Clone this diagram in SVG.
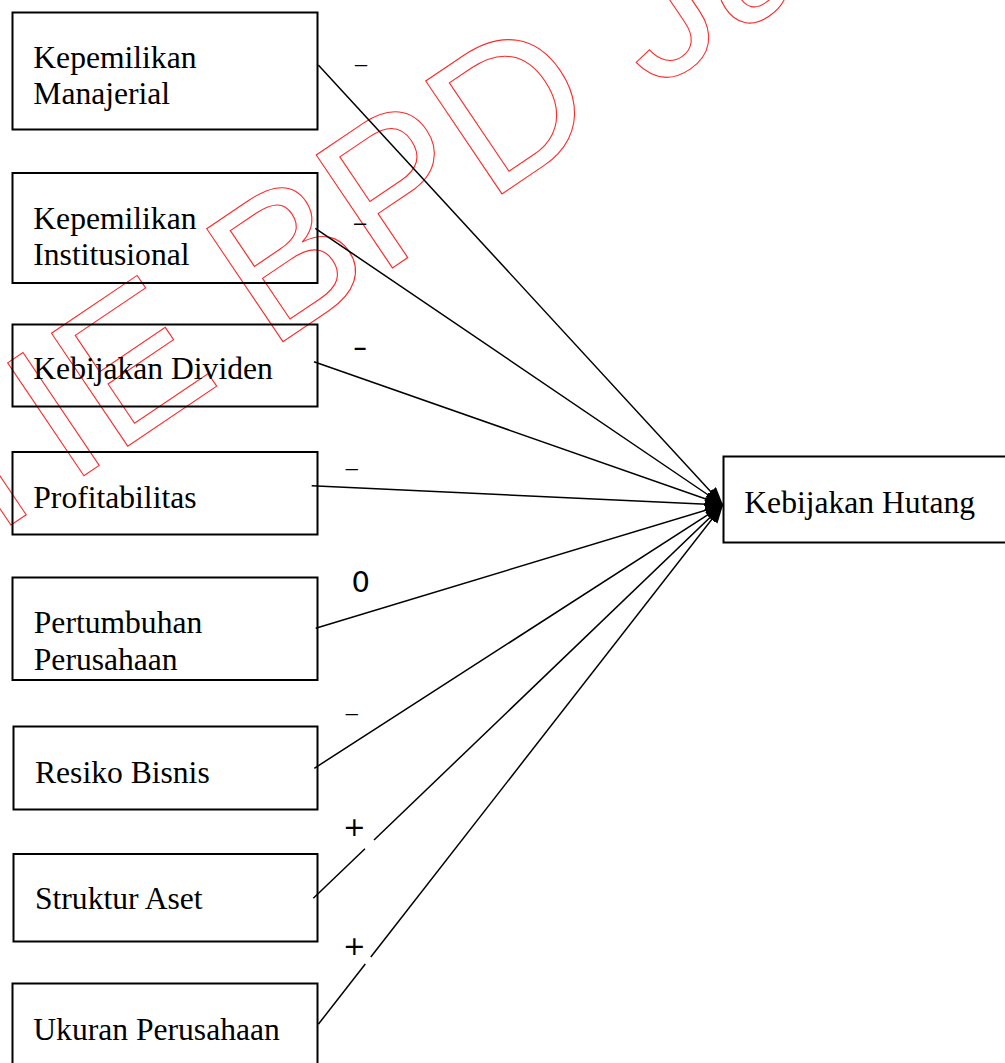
<svg xmlns="http://www.w3.org/2000/svg" width="1005" height="1063" viewBox="0 0 1005 1063">
<style>
.box{fill:none;stroke:#000;stroke-width:2}
.lbl{font-family:"Liberation Serif","Times New Roman",serif;font-size:31.6px;fill:#000}
.con{stroke:#000;stroke-width:1.5;fill:none}
.thin{font-family:"Liberation Serif","Times New Roman",serif;font-size:24px;fill:#000}
.sign{font-family:"DejaVu Sans",sans-serif;fill:#000}
.wm{font-family:"Liberation Sans",Arial,sans-serif;font-size:198px;fill:none;stroke:#ff2a2a;stroke-width:1.1}
</style>
<defs>
<marker id="arr" markerUnits="userSpaceOnUse" markerWidth="20" markerHeight="16" refX="18" refY="7" orient="auto">
<path d="M0,0 L18,7 L0,14 z" fill="#000"/>
</marker>
</defs>
<rect width="1005" height="1063" fill="#fff"/>
<g id="watermark">
<text class="wm" x="-141" y="627.6" transform="rotate(-34 -141 627.6)">STIE BPD Jateng</text>
</g>
<g id="node-manajerial">
<rect class="box" x="12.5" y="12.5" width="305" height="117"/>
<text class="lbl" x="33.3" y="68.3">Kepemilikan</text>
<text class="lbl" x="33.3" y="104.3">Manajerial</text>
</g>
<g id="node-institusional">
<rect class="box" x="12.5" y="173" width="305" height="110"/>
<text class="lbl" x="33.3" y="229.3">Kepemilikan</text>
<text class="lbl" x="33.3" y="265">Institusional</text>
</g>
<g id="node-dividen">
<rect class="box" x="12.5" y="324.5" width="305" height="82"/>
<text class="lbl" x="33.3" y="379.3">Kebijakan Dividen</text>
</g>
<g id="node-profitabilitas">
<rect class="box" x="12.5" y="452" width="305" height="82.5"/>
<text class="lbl" x="33.3" y="508.3">Profitabilitas</text>
</g>
<g id="node-pertumbuhan">
<rect class="box" x="12.5" y="577.5" width="305" height="102.5"/>
<text class="lbl" x="33.8" y="632.7">Pertumbuhan</text>
<text class="lbl" x="33.8" y="670">Perusahaan</text>
</g>
<g id="node-resiko">
<rect class="box" x="13.5" y="726.5" width="304" height="83"/>
<text class="lbl" x="35" y="782.7">Resiko Bisnis</text>
</g>
<g id="node-struktur">
<rect class="box" x="13.5" y="854" width="304" height="87.5"/>
<text class="lbl" x="35" y="909.3">Struktur Aset</text>
</g>
<g id="node-ukuran">
<rect class="box" x="12.5" y="983.5" width="305" height="100"/>
<text class="lbl" x="33.3" y="1040">Ukuran Perusahaan</text>
</g>
<g id="node-hutang">
<rect class="box" x="723.5" y="456.5" width="300" height="86"/>
<text class="lbl" x="744.3" y="512.7">Kebijakan Hutang</text>
</g>
<g id="connectors">
<line class="con" x1="318.3" y1="65" x2="723" y2="505" marker-end="url(#arr)"/>
<line class="con" x1="315.3" y1="228.3" x2="723" y2="505" marker-end="url(#arr)"/>
<line class="con" x1="314" y1="361.7" x2="723" y2="505" marker-end="url(#arr)"/>
<line class="con" x1="311.7" y1="485.7" x2="723" y2="505" marker-end="url(#arr)"/>
<line class="con" x1="315.7" y1="628.3" x2="723" y2="505" marker-end="url(#arr)"/>
<line class="con" x1="314.3" y1="768.3" x2="723" y2="505" marker-end="url(#arr)"/>
<line class="con" x1="313.3" y1="898.3" x2="365" y2="848.7"/>
<line class="con" x1="374" y1="840" x2="723" y2="505" marker-end="url(#arr)"/>
<line class="con" x1="318.3" y1="1024.3" x2="365.3" y2="964"/>
<line class="con" x1="370.8" y1="957" x2="723" y2="505" marker-end="url(#arr)"/>
</g>
<g id="labels">
<text class="thin" x="355" y="70.8">–</text>
<text x="354" y="230.3" font-family="Liberation Sans, Arial, sans-serif" font-size="22" fill="#000">–</text>
<text x="354" y="354.5" font-family="Liberation Sans, Arial, sans-serif" font-size="22" font-weight="bold" fill="#000">–</text>
<text class="thin" x="345.7" y="474.8">–</text>
<text class="sign" x="351.5" y="591.5" font-size="29">0</text>
<text class="thin" x="345.7" y="719.8">–</text>
<text class="sign" x="343" y="835.5" font-size="27">+</text>
<text class="sign" x="343" y="954.5" font-size="27">+</text>
</g>
</svg>
